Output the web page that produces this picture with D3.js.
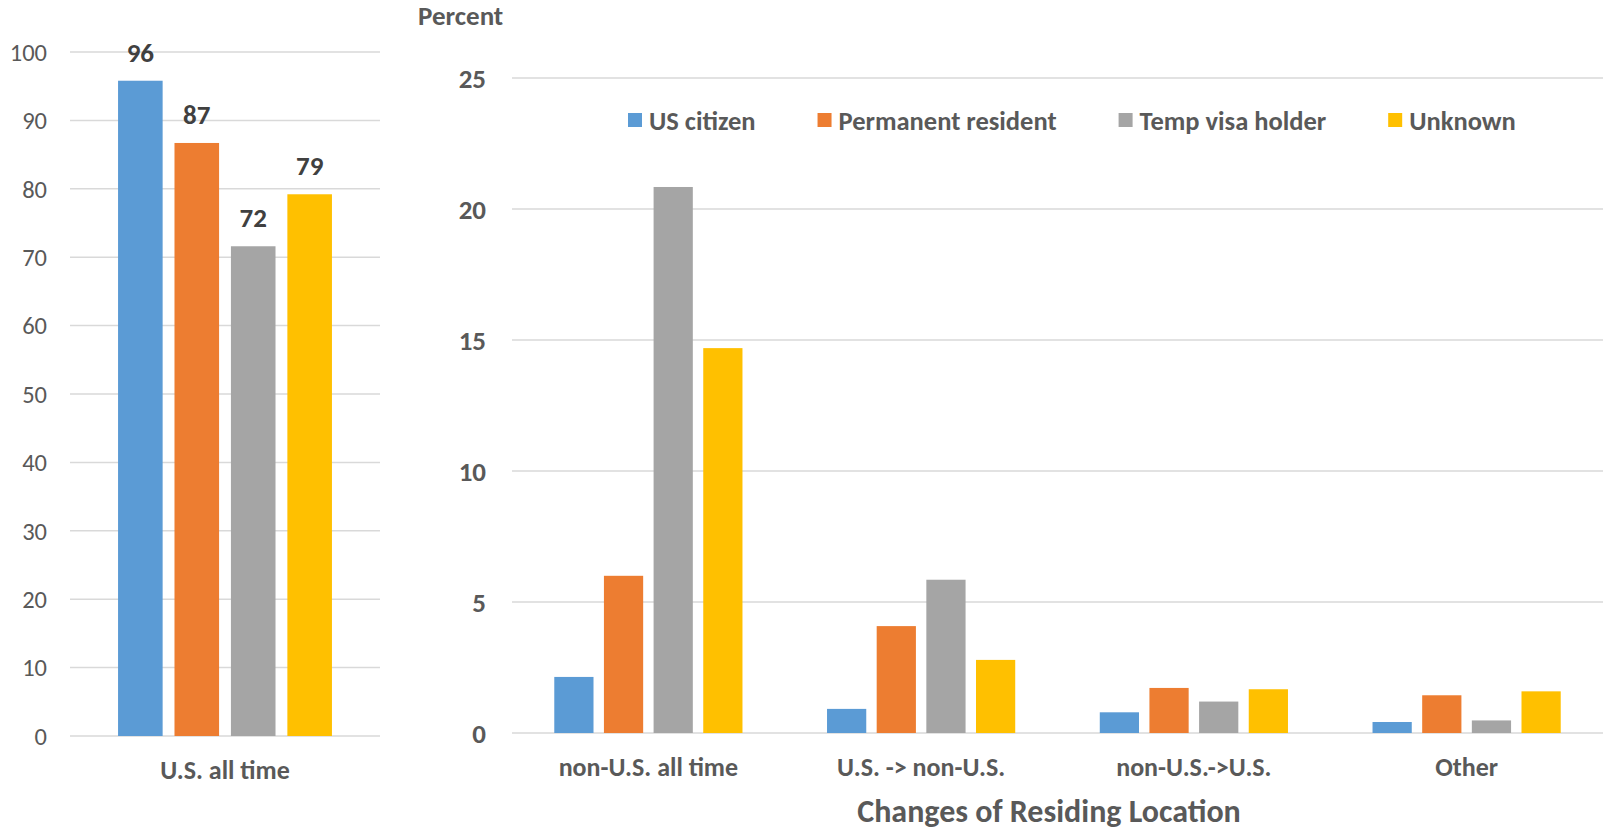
<!DOCTYPE html>
<html>
<head>
<meta charset="utf-8">
<script src="https://cdn.jsdelivr.net/npm/d3@7"></script>
<style>
  html, body { margin: 0; padding: 0; background: #fff; }
  svg { display: block; }
  text { font-family: Carlito, Calibri, Lato, "Open Sans", sans-serif; }
</style>
</head>
<body>
<svg id="chart" width="1604" height="831"></svg>
<script>
// Residency status groups (series)
const seriesNames = ["US citizen", "Permanent resident", "Temp visa holder", "Unknown"];
const seriesColors = ["#5B9BD5", "#ED7D31", "#A5A5A5", "#FFC000"];

// Left panel: share staying in the U.S. all time
const leftCategories = ["U.S. all time"];
const leftValues = [[95.8, 86.7, 71.6, 79.2]];
const leftTicks = [0, 10, 20, 30, 40, 50, 60, 70, 80, 90, 100];

// Right panel: changes of residing location
const rightCategories = ["non-U.S. all time", "U.S. -> non-U.S.", "non-U.S.->U.S.", "Other"];
const usCitizen = [2.14, 0.92, 0.79, 0.42];
const permanentResident = [6.0, 4.08, 1.72, 1.44];
const tempVisaHolder = [20.84, 5.85, 1.2, 0.48];
const unknownStatus = [14.69, 2.79, 1.67, 1.59];
const rightTicks = [0, 5, 10, 15, 20, 25];

const rightValues = rightCategories.map((c, i) =>
  [usCitizen[i], permanentResident[i], tempVisaHolder[i], unknownStatus[i]]);

const svg = d3.select("#chart");
const axisColor = "#595959";
const gridColor = "#D9D9D9";
const groupFrac = 0.69;

function drawPanel(opts) {
  const { categories, values, ticks, yMax, x0, x1, yTop, yBottom, tickX, tickBold, tickSize, labels } = opts;
  const y = d3.scaleLinear().domain([0, yMax]).range([yBottom, yTop]);
  const xb = d3.scaleBand().domain(categories).range([x0, x1]).padding(0);
  const bw = xb.bandwidth();
  const xs = d3.scaleBand().domain(seriesNames)
    .range([bw * (1 - groupFrac) / 2, bw * (1 + groupFrac) / 2])
    .paddingInner(0.21).paddingOuter(0);

  const g = svg.append("g");

  // gridlines
  g.selectAll("line.grid").data(ticks).join("line")
    .attr("x1", x0).attr("x2", x1)
    .attr("y1", d => y(d)).attr("y2", d => y(d))
    .attr("stroke", gridColor).attr("stroke-width", 1.5);

  // tick labels
  g.selectAll("text.tick").data(ticks).join("text")
    .attr("x", tickX).attr("y", d => y(d))
    .attr("dy", "0.36em")
    .attr("text-anchor", "end")
    .attr("fill", axisColor)
    .attr("font-size", tickSize)
    .attr("font-weight", tickBold ? "bold" : "normal")
    .text(d => d);

  // bars
  const groups = g.selectAll("g.grp").data(categories).join("g")
    .attr("transform", d => `translate(${xb(d)},0)`);
  groups.selectAll("rect").data((d, i) => values[i].map((v, j) => ({ v, s: seriesNames[j], c: seriesColors[j] })))
    .join("rect")
    .attr("x", d => xs(d.s))
    .attr("width", xs.bandwidth())
    .attr("y", d => y(d.v))
    .attr("height", d => y(0) - y(d.v))
    .attr("fill", d => d.c);

  if (labels) {
    groups.selectAll("text.val").data((d, i) => values[i].map((v, j) => ({ v, s: seriesNames[j] })))
      .join("text")
      .attr("x", d => xs(d.s) + xs.bandwidth() / 2)
      .attr("y", d => y(d.v) - 19)
      .attr("text-anchor", "middle")
      .attr("fill", "#404040")
      .attr("font-size", 27)
      .attr("font-weight", "bold")
      .text(d => d3.format(".0f")(d.v));
  }

  // category labels
  g.selectAll("text.cat").data(categories).join("text")
    .attr("x", d => xb(d) + bw / 2)
    .attr("y", y(0) + 43)
    .attr("text-anchor", "middle")
    .attr("fill", axisColor)
    .attr("font-size", 26)
    .attr("font-weight", "bold")
    .text(d => d);

  return { y, xb };
}

drawPanel({
  categories: leftCategories, values: leftValues, ticks: leftTicks, yMax: 100,
  x0: 70, x1: 380, yTop: 52, yBottom: 736, tickX: 47, tickBold: false, tickSize: 24.5, labels: true
});

drawPanel({
  categories: rightCategories, values: rightValues, ticks: rightTicks, yMax: 25,
  x0: 512, x1: 1603, yTop: 78, yBottom: 733, tickX: 486, tickBold: true, tickSize: 27, labels: false
});

// y-axis unit label
svg.append("text")
  .attr("x", 418).attr("y", 25)
  .attr("fill", axisColor).attr("font-size", 27).attr("font-weight", "bold")
  .text("Percent");

// x-axis title
svg.append("text")
  .attr("x", 1049).attr("y", 822)
  .attr("text-anchor", "middle")
  .attr("fill", axisColor).attr("font-size", 32).attr("font-weight", "bold")
  .text("Changes of Residing Location");

// legend
const legend = svg.append("g").attr("transform", "translate(628,120)");
let lx = 0;
seriesNames.forEach((name, i) => {
  const item = legend.append("g").attr("transform", `translate(${lx},0)`);
  item.append("rect").attr("x", 0).attr("y", -7).attr("width", 14).attr("height", 14)
    .attr("fill", seriesColors[i]);
  const t = item.append("text").attr("x", 21).attr("y", 0).attr("dy", "0.36em")
    .attr("fill", axisColor).attr("font-size", 26.5).attr("font-weight", "bold")
    .text(name);
  lx += 21 + t.node().getComputedTextLength() + 62;
});
</script>
</body>
</html>
